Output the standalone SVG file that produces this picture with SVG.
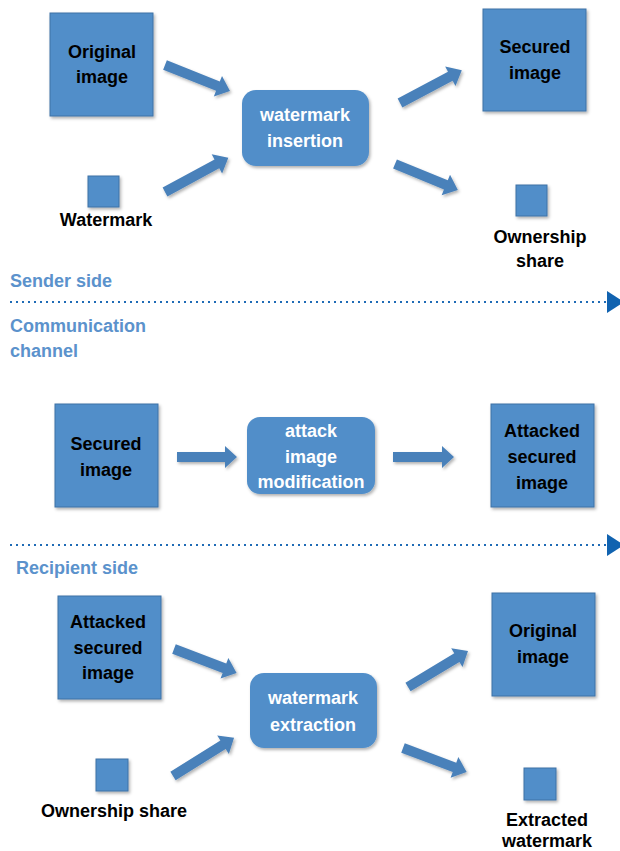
<svg xmlns="http://www.w3.org/2000/svg" width="620" height="851" viewBox="0 0 620 851">
<style>
  .box{fill:#518ec9;stroke:#3f72a6;stroke-width:1}
  .proc{fill:#518ec9}
  .arr{fill:#4a81ba}
  .lbl{font-family:"Liberation Sans",Arial,sans-serif;font-weight:bold;font-size:18px;fill:#000;text-anchor:middle}
  .wlbl{font-family:"Liberation Sans",Arial,sans-serif;font-weight:bold;font-size:18px;fill:#fff;text-anchor:middle}
  .side{font-family:"Liberation Sans",Arial,sans-serif;font-weight:bold;font-size:18px;fill:#5b92cc}
  .dots{stroke:#1f6bb6;stroke-width:2;stroke-dasharray:2 4;fill:none}
  .tri{fill:#1163b0}
</style>
<defs>
  <filter id="sh" x="-20%" y="-20%" width="140%" height="140%">
    <feDropShadow dx="1.5" dy="2" stdDeviation="1.5" flood-color="#000" flood-opacity="0.3"/>
  </filter>
</defs>

<!-- Sender side -->
<g id="n-original-1" filter="url(#sh)"><rect class="box" x="50" y="13" width="103" height="103"/></g>
<g id="t-original-1"><text class="lbl" x="102" y="58">Original</text><text class="lbl" x="102" y="83">image</text></g>
<g id="n-watermark" filter="url(#sh)"><rect class="box" x="88" y="176" width="31" height="31"/></g>
<g id="t-watermark"><text class="lbl" x="106" y="226">Watermark</text></g>
<g id="n-insertion"><rect class="proc" x="242" y="90" width="127" height="76" rx="14" filter="url(#sh)"/>
  <text class="wlbl" x="305" y="121">watermark</text><text class="wlbl" x="305" y="147">insertion</text></g>
<g id="n-secured-1" filter="url(#sh)"><rect class="box" x="483" y="9" width="103" height="102"/></g>
<g id="t-secured-1"><text class="lbl" x="535" y="53">Secured</text><text class="lbl" x="535" y="79">image</text></g>
<g id="n-ownership-1" filter="url(#sh)"><rect class="box" x="516" y="185" width="31" height="31"/></g>
<g id="t-ownership-1"><text class="lbl" x="540" y="243">Ownership</text><text class="lbl" x="540" y="267">share</text></g>

<text class="side" x="10" y="287">Sender side</text>
<text class="side" x="10" y="332">Communication</text>
<text class="side" x="10" y="357">channel</text>

<!-- Channel -->
<g id="n-secured-2" filter="url(#sh)"><rect class="box" x="55" y="404" width="103" height="103"/></g>
<g id="t-secured-2"><text class="lbl" x="106" y="450">Secured</text><text class="lbl" x="106" y="476">image</text></g>
<g id="n-attack"><rect class="proc" x="247" y="417" width="128" height="77" rx="13" filter="url(#sh)"/>
  <text class="wlbl" x="311" y="437">attack</text><text class="wlbl" x="311" y="463">image</text><text class="wlbl" x="311" y="488">modification</text></g>
<g id="n-attacked-1" filter="url(#sh)"><rect class="box" x="491" y="404" width="103" height="103"/></g>
<g id="t-attacked-1"><text class="lbl" x="542" y="437">Attacked</text><text class="lbl" x="542" y="463">secured</text><text class="lbl" x="542" y="489">image</text></g>

<text class="side" x="16" y="574">Recipient side</text>

<!-- Recipient side -->
<g id="n-attacked-2" filter="url(#sh)"><rect class="box" x="58" y="596" width="103" height="103"/></g>
<g id="t-attacked-2"><text class="lbl" x="108" y="628">Attacked</text><text class="lbl" x="108" y="654">secured</text><text class="lbl" x="108" y="679">image</text></g>
<g id="n-ownership-2" filter="url(#sh)"><rect class="box" x="96" y="759" width="32" height="32"/></g>
<g id="t-ownership-2"><text class="lbl" x="114" y="817">Ownership share</text></g>
<g id="n-extraction"><rect class="proc" x="250" y="673" width="127" height="75" rx="14" filter="url(#sh)"/>
  <text class="wlbl" x="313" y="704">watermark</text><text class="wlbl" x="313" y="731">extraction</text></g>
<g id="n-original-2" filter="url(#sh)"><rect class="box" x="492" y="593" width="103" height="103"/></g>
<g id="t-original-2"><text class="lbl" x="543" y="637">Original</text><text class="lbl" x="543" y="663">image</text></g>
<g id="n-extracted" filter="url(#sh)"><rect class="box" x="524" y="768" width="32" height="32"/></g>
<g id="t-extracted"><text class="lbl" x="547" y="826">Extracted</text><text class="lbl" x="547" y="847">watermark</text></g>

<!-- Connectors -->
<g id="connectors">
  <g filter="url(#sh)">
    <path class="arr" transform="translate(165,65) rotate(21.8)" d="M0,-5 H57 V-11 L70,0 L57,11 V5 H0Z"/>
    <path class="arr" transform="translate(165,192) rotate(-28.4)" d="M0,-5 H59 V-11 L72,0 L59,11 V5 H0Z"/>
    <path class="arr" transform="translate(400,103) rotate(-28)" d="M0,-5 H57 V-11 L70,0 L57,11 V5 H0Z"/>
    <path class="arr" transform="translate(395,164) rotate(22.4)" d="M0,-5 H55 V-11 L68,0 L55,11 V5 H0Z"/>
    <path class="arr" transform="translate(177,457)" d="M0,-5 H48 V-11 L60,0 L48,11 V5 H0Z"/>
    <path class="arr" transform="translate(393,457)" d="M0,-5 H49 V-11 L61,0 L49,11 V5 H0Z"/>
    <path class="arr" transform="translate(174,649) rotate(20.9)" d="M0,-5 H54 V-11 L67,0 L54,11 V5 H0Z"/>
    <path class="arr" transform="translate(173,776) rotate(-32)" d="M0,-5 H59 V-11 L72,0 L59,11 V5 H0Z"/>
    <path class="arr" transform="translate(408,687) rotate(-31)" d="M0,-5 H57 V-11 L70,0 L57,11 V5 H0Z"/>
    <path class="arr" transform="translate(403,748) rotate(20.6)" d="M0,-5 H55 V-11 L68,0 L55,11 V5 H0Z"/>
  </g>
  <line class="dots" x1="10" y1="302" x2="606" y2="302"/>
  <polygon class="tri" points="607,291 624,302 607,313"/>
  <line class="dots" x1="10" y1="545" x2="606" y2="545"/>
  <polygon class="tri" points="607,534 624,545 607,556"/>
</g>
</svg>
